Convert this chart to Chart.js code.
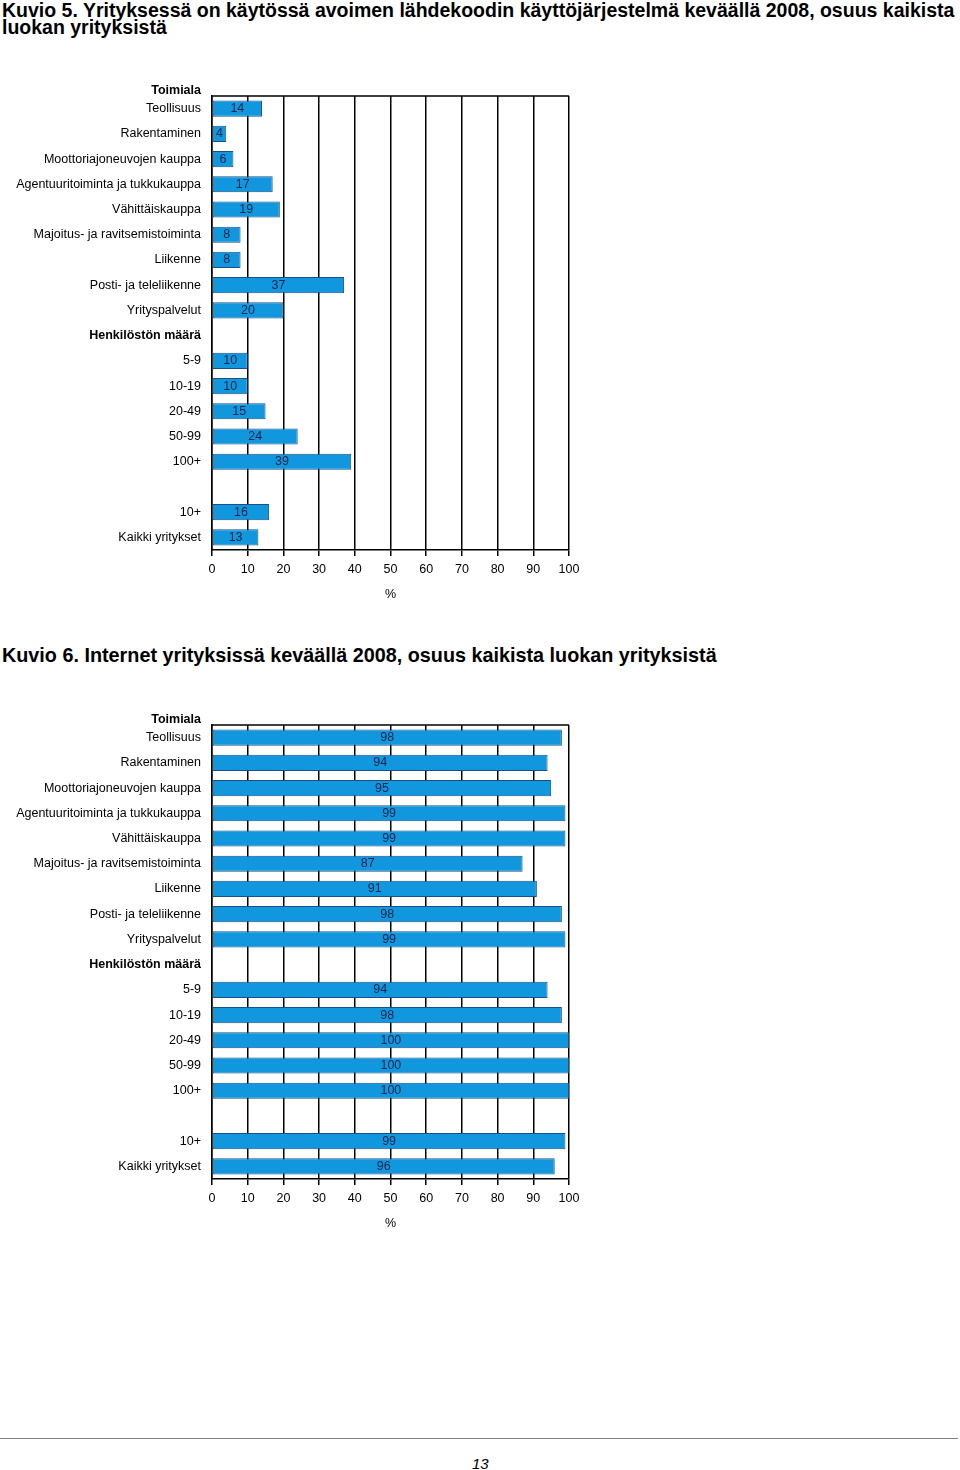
<!DOCTYPE html>
<html>
<head>
<meta charset="utf-8">
<script src="https://cdn.jsdelivr.net/npm/chart.js@4.4.0/dist/chart.umd.min.js"></script>
<style>
  html, body { margin: 0; padding: 0; background: #fff; }
  body { width: 960px; height: 1470px; position: relative; overflow: hidden; font-family: "Liberation Sans", Arial, sans-serif; }
  .title { position: absolute; left: 2px; font-weight: bold; font-size: 19.5px; line-height: 17px; color: #000; white-space: nowrap; }
  .wrap { position: absolute; left: 0; width: 600px; height: 530px; }
  .rule { position: absolute; left: 0; top: 1438px; width: 958px; height: 1px; background: #808080; }
  .page { position: absolute; left: 472px; top: 1455px; font-size: 15px; font-style: italic; color: #000; }
</style>
</head>
<body>
<div class="title" style="top:2px">Kuvio 5. Yrityksessä on käytössä avoimen lähdekoodin käyttöjärjestelmä keväällä 2008, osuus kaikista<br>luokan yrityksistä</div>
<div class="wrap" style="top:80px"><canvas id="chart1" width="600" height="530"></canvas></div>
<div class="title" style="top:647px; font-size:19.8px">Kuvio 6. Internet yrityksissä keväällä 2008, osuus kaikista luokan yrityksistä</div>
<div class="wrap" style="top:709px"><canvas id="chart2" width="600" height="530"></canvas></div>
<div class="rule"></div>
<div class="page">13</div>

<script>
  // row labels (one empty row and one group header inside the axis)
  const categories = [
    'Teollisuus', 'Rakentaminen', 'Moottoriajoneuvojen kauppa', 'Agentuuritoiminta ja tukkukauppa',
    'Vähittäiskauppa', 'Majoitus- ja ravitsemistoiminta', 'Liikenne', 'Posti- ja teleliikenne',
    'Yrityspalvelut', 'Henkilöstön määrä', '5-9', '10-19', '20-49', '50-99', '100+', '', '10+', 'Kaikki yritykset'
  ];
  const headerRows = ['Henkilöstön määrä'];
  const topHeader = 'Toimiala';

  // Kuvio 5: avoimen lähdekoodin käyttöjärjestelmä, %
  const openSourceValues = [14, 4, 6, 17, 19, 8, 8, 37, 20, null, 10, 10, 15, 24, 39, null, 16, 13];
  // Kuvio 6: Internet, %
  const internetValues = [98, 94, 95, 99, 99, 87, 91, 98, 99, null, 94, 98, 100, 100, 100, null, 99, 96];

  const xTicks = [0, 10, 20, 30, 40, 50, 60, 70, 80, 90, 100];
  const axisTitle = '%';

  const labelFont = '"Liberation Sans", Arial, sans-serif';

  const barValuePlugin = {
    id: 'barValues',
    afterDatasetsDraw(chart) {
      const ctx = chart.ctx;
      ctx.save();
      ctx.font = '12.5px ' + labelFont;
      ctx.fillStyle = '#15244a';
      ctx.textAlign = 'center';
      ctx.textBaseline = 'middle';
      const meta = chart.getDatasetMeta(0);
      const data = chart.data.datasets[0].data;
      meta.data.forEach(function (bar, i) {
        if (data[i] == null) return;
        ctx.fillText(String(data[i]), (bar.x + bar.base) / 2, bar.y);
      });
      ctx.restore();
    }
  };

  const frameTopPlugin = {
    id: 'frameTop',
    beforeDatasetsDraw(chart) {
      const a = chart.chartArea;
      const ctx = chart.ctx;
      ctx.save();
      ctx.strokeStyle = '#000';
      ctx.lineWidth = 1.5;
      ctx.beginPath();
      ctx.moveTo(a.left, a.top);
      ctx.lineTo(a.right, a.top);
      ctx.stroke();
      // group title above the plot
      ctx.font = 'bold 12.5px ' + labelFont;
      ctx.fillStyle = '#000';
      ctx.textAlign = 'right';
      ctx.textBaseline = 'middle';
      ctx.fillText(topHeader, a.left - 11, a.top - 5);
      ctx.restore();
    }
  };

  function renderChart(canvasId, values) {
    return new Chart(document.getElementById(canvasId), {
      type: 'bar',
      data: {
        labels: categories,
        datasets: [{
          data: values,
          backgroundColor: '#1197dd',
          borderColor: '#1d4f86',
          borderWidth: 1,
          borderSkipped: false,
          barPercentage: 0.64,
          categoryPercentage: 1
        }]
      },
      options: {
        indexAxis: 'y',
        responsive: false,
        animation: false,
        layout: { padding: { top: 16, right: 31, left: 0, bottom: 0 } },
        plugins: {
          legend: { display: false },
          tooltip: { enabled: false }
        },
        scales: {
          x: {
            min: 0,
            max: 100,
            afterBuildTicks(scale) {
              scale.ticks = xTicks.map(function (v) { return { value: v }; });
            },
            afterFit(scale) { scale.height = 60; },
            grid: { color: '#000', lineWidth: 1.5, tickLength: 6, drawTicks: true },
            border: { color: '#000', width: 1.5 },
            ticks: { color: '#000', padding: 6, font: { family: labelFont, size: 12.5 } },
            title: {
              display: true,
              text: axisTitle,
              color: '#000',
              font: { family: labelFont, size: 12.5 },
              padding: { top: 0, bottom: 8 }
            }
          },
          y: {
            afterFit(scale) { scale.width = 212; },
            grid: { display: false },
            border: { color: '#000', width: 1.5 },
            ticks: {
              color: '#000',
              padding: 3,
              autoSkip: false,
              font: function (context) {
                const label = categories[context.index];
                return {
                  family: labelFont,
                  size: 12.5,
                  weight: headerRows.indexOf(label) >= 0 ? 'bold' : 'normal'
                };
              }
            }
          }
        }
      },
      plugins: [frameTopPlugin, barValuePlugin]
    });
  }

  renderChart('chart1', openSourceValues);
  renderChart('chart2', internetValues);
</script>
</body>
</html>
